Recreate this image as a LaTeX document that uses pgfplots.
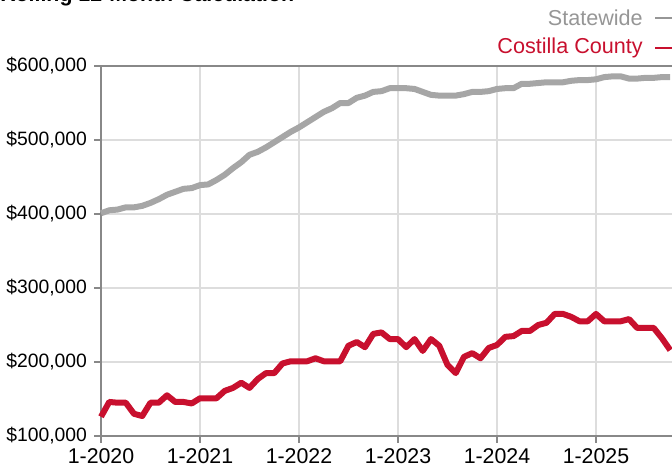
\documentclass[border=0pt]{standalone}
\usepackage{pgfplots}
\pgfplotsset{compat=1.18}
\usepackage{fontspec}
\setmainfont{Liberation Sans}
\definecolor{cred}{RGB}{200,16,46}
\definecolor{cgray}{RGB}{166,166,166}
\definecolor{legray}{RGB}{150,150,150}
\definecolor{gridc}{RGB}{221,221,221}
\definecolor{axc}{RGB}{136,136,136}
\begin{document}
\begin{tikzpicture}
\begin{axis}[
  at={(75.75pt,24pt)}, anchor=south west,
  scale only axis, width=430.03pt, height=277.5pt,
  xmin=0, xmax=69.5, ymin=100000, ymax=600000,
  scaled y ticks=false,
  xtick={0,12,24,36,48,60},
  xticklabels={1-2020,1-2021,1-2022,1-2023,1-2024,1-2025},
  ytick={100000,200000,300000,400000,500000,600000},
  yticklabels={{\$100,000},{\$200,000},{\$300,000},{\$400,000},{\$500,000},{\$600,000}},
  grid=major, major grid style={gridc, line width=0.8pt},
  axis line style={axc, line width=0.8pt},
  tick style={axc, line width=0.8pt},
  tick align=outside, major tick length=5pt,
  xtick pos=bottom, ytick pos=left,
  tick label style={/pgf/number format/assume math mode=true},
  xticklabel style={font=\fontsize{16}{19}\selectfont, yshift=-1pt},
  yticklabel style={font=\fontsize{14.5}{17}\selectfont, xshift=-2pt},
  clip=false,
]
\addplot[cgray, line width=4.5pt, line join=round] table {
x y
0 401000
1 405000
2 406000
3 409000
4 409000
5 411000
6 415000
7 420000
8 426000
9 430000
10 434000
11 435000
12 439000
13 440000
14 446000
15 453000
16 462000
17 470000
18 480000
19 484000
20 490000
21 497000
22 504000
23 511000
24 517000
25 524000
26 531000
27 538000
28 543000
29 550000
30 550000
31 557000
32 560000
33 565000
34 566000
35 570000
36 570000
37 570000
38 569000
39 565000
40 561000
41 560000
42 560000
43 560000
44 562000
45 565000
46 565000
47 566000
48 569000
49 570000
50 570000
51 576000
52 576000
53 577000
54 578000
55 578000
56 578000
57 580000
58 581000
59 581000
60 582000
61 585000
62 586000
63 586000
64 583000
65 583000
66 584000
67 584000
68 585000
69 585000
};
\addplot[cred, line width=4.5pt, line join=round] table {
x y
0 126000
1 146000
2 145000
3 145000
4 130000
5 127000
6 145000
7 145000
8 155000
9 146000
10 146000
11 144000
12 151000
13 151000
14 151000
15 161000
16 165000
17 172000
18 165000
19 177000
20 185000
21 185000
22 198000
23 201000
24 201000
25 201000
26 205000
27 201000
28 201000
29 201000
30 222000
31 227000
32 220000
33 238000
34 240000
35 231000
36 231000
37 220000
38 231000
39 215000
40 231000
41 222000
42 196000
43 185000
44 207000
45 212000
46 205000
47 219000
48 223000
49 234000
50 235000
51 242000
52 242000
53 250000
54 253000
55 265000
56 265000
57 261000
58 255000
59 255000
60 265000
61 255000
62 255000
63 255000
64 258000
65 246000
66 246000
67 246000
68 232000
69 216000
};
\end{axis}
\node[anchor=base west, inner sep=0pt, font=\fontsize{16}{19}\selectfont\bfseries] at (0pt,350pt) {Rolling 12-Month Calculation};
\node[anchor=east, inner sep=0pt, text=legray, font=\fontsize{16.2}{19}\selectfont] at (482.25pt,337.5pt) {Statewide};
\draw[legray, line width=1.5pt] (491.25pt,337.5pt) -- (512pt,337.5pt);
\node[anchor=east, inner sep=0pt, text=cred, font=\fontsize{16.2}{19}\selectfont] at (482.25pt,315pt) {Costilla County};
\draw[cred, line width=1.5pt] (491.25pt,315pt) -- (512pt,315pt);
\pgfresetboundingbox
\useasboundingbox (0pt,0pt) rectangle (504pt,351pt);
\end{tikzpicture}
\end{document}
